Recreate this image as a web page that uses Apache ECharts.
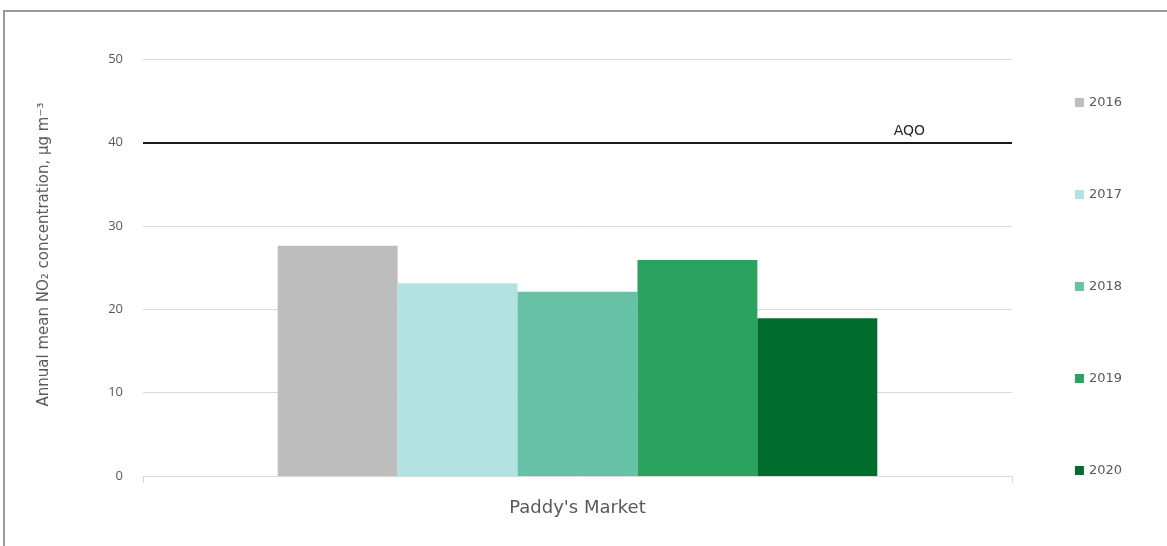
<!DOCTYPE html>
<html>
<head>
<meta charset="utf-8">
<script src="https://cdn.jsdelivr.net/npm/echarts@6/dist/echarts.min.js"></script>
<style>
  html, body { margin: 0; padding: 0; background: #ffffff; }
  #frame {
    position: absolute; left: 3px; top: 10px; width: 1200px; height: 600px;
    border-left: 2px solid #9a9a9a; border-top: 2px solid #9a9a9a;
  }
  #chart { position: absolute; left: 0; top: 0; width: 1167px; height: 546px; }
</style>
</head>
<body>
<div id="frame"></div>
<div id="chart"></div>
<script>
// Annual mean NO2 at the Paddy's Market station, one bar per year
const sites = ["Paddy's Market"];
const years = ['2016', '2017', '2018', '2019', '2020'];
const annualMean = [27.6, 23.1, 22.1, 25.9, 18.9];
const yearColors = ['#bdbdbd', '#b2e2e2', '#66c2a4', '#2ca25f', '#006d2c'];
const aqoLevel = 40;
const yTicks = { min: 0, max: 50, interval: 10 };

const chart = echarts.init(document.getElementById('chart'), null, { renderer: 'canvas' });

const textColor = '#595959';
const font = 'Open Sans, Liberation Sans, sans-serif';
const wideFont = 'DejaVu Sans, sans-serif';

const series = years.map((y, i) => {
  const s = {
    name: y,
    type: 'bar',
    data: [annualMean[i]],
    itemStyle: { color: yearColors[i] },
    barGap: '0%',
    barCategoryGap: '31%'
  };
  if (i === 0) {
    s.markLine = {
      silent: true,
      symbol: 'none',
      lineStyle: { color: '#1a1a1a', width: 2, type: 'solid' },
      label: {
        show: true,
        formatter: 'AQO',
        position: 'insideEndTop',
        color: '#262626',
        fontFamily: wideFont,
        fontSize: 14,
        distance: [87, 4]
      },
      data: [{ yAxis: aqoLevel }]
    };
  }
  return s;
});

chart.setOption({
  backgroundColor: 'transparent',
  animation: false,
  textStyle: { fontFamily: font },
  grid: { left: 143, right: 155, top: 59, bottom: 70 },
  legend: {
    orient: 'vertical',
    right: 40,
    top: 91,
    itemGap: 79,
    itemWidth: 9,
    itemHeight: 9,
    itemTextGap: 5,
    icon: 'rect',
    textStyle: { color: textColor, fontSize: 13, fontFamily: wideFont },
    data: years
  },
  xAxis: {
    type: 'category',
    data: sites,
    axisLine: { lineStyle: { color: '#d9d9d9', width: 1 } },
    axisTick: { show: true, length: 7, lineStyle: { color: '#d9d9d9' } },
    axisLabel: { color: textColor, fontSize: 18, margin: 23, fontFamily: wideFont }
  },
  yAxis: {
    type: 'value',
    min: yTicks.min,
    max: yTicks.max,
    interval: yTicks.interval,
    name: 'Annual mean NO\u2082 concentration, \u03bcg m\u207b\u00b3',
    nameLocation: 'middle',
    nameRotate: 90,
    nameGap: 91,
    nameTextStyle: { color: textColor, fontSize: 15, fontFamily: wideFont, padding: [0, 0, 0, 26] },
    axisLine: { show: false },
    axisTick: { show: false },
    axisLabel: { color: textColor, fontSize: 13, margin: 20, fontFamily: font },
    splitLine: { lineStyle: { color: '#d9d9d9', width: 1 } }
  },
  series: series
});
</script>
</body>
</html>
